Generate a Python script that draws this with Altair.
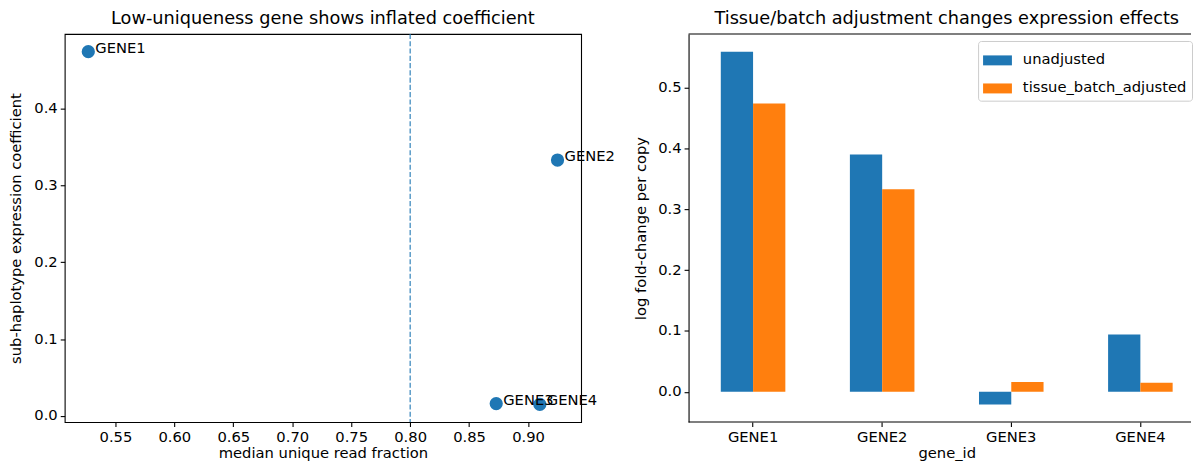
import altair as alt
import pandas as pd

# ---- data ----
genes = ["GENE1", "GENE2", "GENE3", "GENE4"]
unique_frac = [0.527, 0.925, 0.873, 0.910]
sub_coef = [0.474, 0.333, 0.016, 0.015]
unadjusted = [0.559, 0.390, -0.021, 0.094]
adjusted = [0.474, 0.333, 0.016, 0.015]
series = ["unadjusted", "tissue_batch_adjusted"]
threshold = [0.80]
x_ticks = [0.55, 0.60, 0.65, 0.70, 0.75, 0.80, 0.85, 0.90]
y_ticks_left = [0.0, 0.1, 0.2, 0.3, 0.4]
y_ticks_right = [0.0, 0.1, 0.2, 0.3, 0.4, 0.5]

FONT = "DejaVu Sans"
BLUE = "#1f77b4"
ORANGE = "#ff7f0e"
FS = 14.8
TFS = 17.8

df1 = pd.DataFrame({"gene": genes, "frac": unique_frac, "coef": sub_coef})
df_rule = pd.DataFrame({"t": threshold})
df2 = pd.DataFrame({
    "gene": genes * 2,
    "series": [series[0]] * 4 + [series[1]] * 4,
    "value": unadjusted + adjusted,
})

W, H = 519, 390
W_RIGHT = 505  # right panel is cut by the window edge

xs = alt.X("frac:Q", scale=alt.Scale(domain=[0.507, 0.945], nice=False, zero=False),
           axis=alt.Axis(values=x_ticks, format=".2f", title="median unique read fraction"))
ys = alt.Y("coef:Q", scale=alt.Scale(domain=[-0.008, 0.497], nice=False, zero=False),
           axis=alt.Axis(values=y_ticks_left, format=".1f", titlePadding=10,
                         title="sub-haplotype expression coefficient"))

pts = alt.Chart(df1).mark_circle(size=177, opacity=1, color=BLUE).encode(x=xs, y=ys)
txt = alt.Chart(df1).mark_text(align="left", baseline="alphabetic", dx=7, dy=1,
                               fontSize=FS, font=FONT, color="black").encode(
    x=xs, y=ys, text="gene:N")
rule = alt.Chart(df_rule).mark_rule(color=BLUE, strokeWidth=1.1,
                                    strokeDash=[5.1, 2.2]).encode(x=alt.X("t:Q"))

left = alt.layer(rule, pts, txt).properties(
    width=W, height=H,
    title=alt.TitleParams("Low-uniqueness gene shows inflated coefficient",
                          frame="group", anchor="middle"))

# band layout equivalent to a 519px-wide axis (4 groups, 0.5-wide group of bars)
# shown through a 505px window: step = 505 / (3.5 + 2*0.196) ~ 129.75
bars = alt.Chart(df2).mark_bar().encode(
    x=alt.X("gene:N", sort=genes,
            scale=alt.Scale(paddingInner=0.5, paddingOuter=0.196, align=0.637),
            axis=alt.Axis(labelAngle=0, title="gene_id", titleX=W / 2, domain=False)),
    xOffset=alt.XOffset("series:N", sort=series,
                        scale=alt.Scale(paddingInner=0, paddingOuter=0)),
    y=alt.Y("value:Q", scale=alt.Scale(domain=[-0.0497, 0.588], nice=False, zero=False),
            axis=alt.Axis(values=y_ticks_right, format=".1f", titlePadding=9,
                          domain=True, domainColor="black", domainWidth=1.1,
                          title="log fold-change per copy")),
    color=alt.Color("series:N",
                    scale=alt.Scale(domain=series, range=[BLUE, ORANGE]),
                    legend=alt.Legend(
                        title=None, orient="none", legendX=291, legendY=7,
                        symbolType="M-1,-0.345H1V0.345H-1Z", symbolSize=841,
                        symbolStrokeWidth=0, symbolOpacity=1,
                        labelFontSize=FS, labelFont=FONT, labelColor="black",
                        labelLimit=400, labelOffset=11, padding=5, rowPadding=6.2,
                        fillColor="rgba(255,255,255,0.8)", strokeColor="#cccccc",
                        cornerRadius=3)),
)

# frame lines of the clipped right panel (top and bottom spines)
frame_df = pd.DataFrame({"edge": ["top", "bottom"]})
spine_top = alt.Chart(frame_df.iloc[:1]).mark_rule(color="black", strokeWidth=1.1).encode(
    x=alt.value(0), x2=alt.value(W_RIGHT), y=alt.value(0))
spine_bottom = alt.Chart(frame_df.iloc[1:]).mark_rule(color="black", strokeWidth=1.1).encode(
    x=alt.value(0), x2=alt.value(W_RIGHT), y=alt.value(H))

right = alt.layer(bars, spine_top, spine_bottom).properties(
    width=W_RIGHT, height=H,
    view=alt.ViewBackground(stroke="transparent"),
    title=alt.TitleParams("Tissue/batch adjustment changes expression effects",
                          frame="group", anchor="middle", dx=(W - W_RIGHT) / 2))

chart = alt.hconcat(left, right, spacing=108, bounds="flush").resolve_legend(
    color="independent"
).resolve_scale(color="independent").properties(
    padding=0
).configure_view(
    stroke="black", strokeWidth=1.1
).configure_axis(
    domain=False, grid=False, tickColor="black", tickSize=4.5, tickWidth=1.1,
    labelPadding=3, labelFontSize=FS, labelFont=FONT, labelColor="black",
    titleFontSize=FS, titleFont=FONT, titleColor="black", titleFontWeight="normal",
    titlePadding=1
).configure_title(
    fontSize=TFS, font=FONT, fontWeight="normal", color="black",
    offset=6
)

chart.save("out.html", embed_options={"renderer": "svg", "actions": False})
